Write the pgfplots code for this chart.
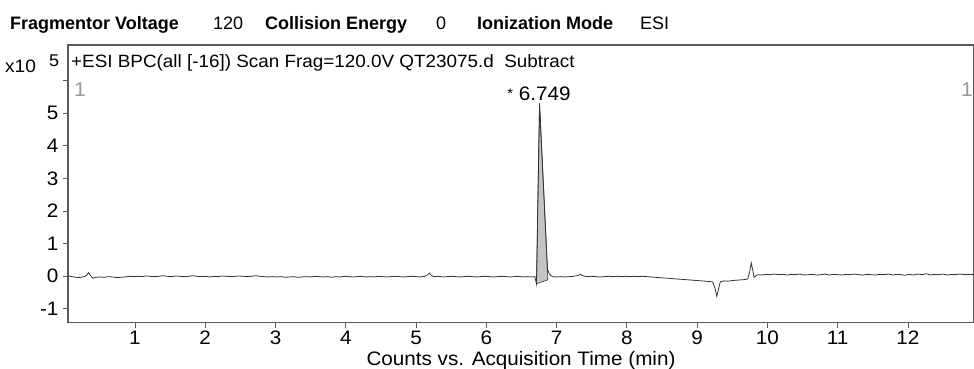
\documentclass[border=0pt]{standalone}
\usepackage{pgfplots}
\pgfplotsset{compat=1.18}
\usepackage{fontspec}
\setmainfont{Liberation Sans}[FakeStretch=1.06]
\newfontfamily\hdr{Liberation Sans}
\definecolor{frame}{HTML}{5A5A5A}
\definecolor{trace}{HTML}{333333}
\definecolor{peakfill}{HTML}{C4C4C4}
\definecolor{lbl}{HTML}{999999}
\newcommand{\fs}{\fontsize{19.5}{22}\selectfont}
\begin{document}
\begin{tikzpicture}
\path[use as bounding box] (-68pt,-45.5pt) rectangle (906pt,322.5pt);
% header
\node[anchor=base west,inner sep=0] at (-58pt,293.5pt) {\hdr\fontsize{18}{20}\selectfont\bfseries Fragmentor Voltage};
\node[anchor=base west,inner sep=0] at (145pt,293.5pt) {\hdr\fontsize{18}{20}\selectfont 120};
\node[anchor=base west,inner sep=0] at (197pt,293.5pt) {\hdr\fontsize{18}{20}\selectfont\bfseries Collision Energy};
\node[anchor=base west,inner sep=0] at (368pt,293.5pt) {\hdr\fontsize{18}{20}\selectfont 0};
\node[anchor=base west,inner sep=0] at (409pt,293.5pt) {\hdr\fontsize{18}{20}\selectfont\bfseries Ionization Mode};
\node[anchor=base west,inner sep=0] at (572pt,293.5pt) {\hdr\fontsize{18}{20}\selectfont ESI};
\begin{axis}[
  at={(0,0)}, anchor=south west,
  scale only axis, width=906pt, height=277.5pt,
  xmin=0.047, xmax=12.94, ymin=-1.43, ymax=7.1,
  axis line style={draw=frame, line width=1.4pt},
  xtick={1,...,12}, ytick={-1,0,1,2,3,4,5,6},
  yticklabels={-1,0,1,2,3,4,5,{}},
  tick align=outside, xtick pos=bottom, ytick pos=left,
  major tick length=5pt,
  tick style={draw=frame, line width=0.8pt},
  ticklabel style={font=\fs},
  xticklabel style={inner sep=1pt, yshift=-2pt},
  yticklabel style={xshift=-1pt},
  /pgf/number format/assume math mode=true,
  xlabel={Counts vs. Acquisition Time (min)},
  xlabel style={font=\fs, inner sep=0pt, at={(axis description cs:0.5,0)}, anchor=base, yshift=-43pt},
  clip=false,
]
\addplot[fill=peakfill, draw=trace, line width=0.6pt] coordinates {
(6.714,-0.24) (6.757,5.31) (6.87,0.20) (6.875,-0.12)} -- cycle;
\addplot[color=trace, line width=0.8pt] coordinates {
(0.05,0.01) (0.08,-0.01) (0.13,-0.03) (0.18,-0.05) (0.23,-0.04) (0.28,-0.02)
(0.31,0.02) (0.34,0.10) (0.37,0.01) (0.40,-0.07) (0.44,-0.04) (0.50,-0.03)
(0.56,-0.04) (0.62,-0.02) (0.68,-0.03) (0.74,-0.05) (0.80,-0.04) (0.86,-0.03)
(0.92,-0.01) (0.98,-0.02) (1.04,-0.01) (1.10,-0.02) (1.16,0.00) (1.22,-0.01)
(1.28,-0.02) (1.34,-0.01) (1.40,0.01) (1.46,-0.01) (1.52,-0.02) (1.58,0.00)
(1.64,-0.01) (1.70,-0.02) (1.76,-0.01) (1.82,0.01) (1.88,-0.01) (1.94,-0.02)
(2.00,-0.01) (2.06,-0.03) (2.12,-0.01) (2.18,-0.02) (2.24,0.00) (2.30,-0.01)
(2.36,-0.02) (2.42,-0.01) (2.48,0.00) (2.54,-0.01) (2.60,-0.02) (2.66,-0.01)
(2.72,0.01) (2.78,-0.01) (2.84,-0.02) (2.90,-0.03) (2.96,-0.02) (3.02,-0.03)
(3.08,-0.02) (3.14,-0.04) (3.20,-0.03) (3.26,-0.02) (3.32,-0.04) (3.38,-0.03)
(3.44,-0.02) (3.50,-0.03) (3.56,-0.01) (3.62,-0.02) (3.68,-0.03) (3.74,-0.02)
(3.80,-0.04) (3.86,-0.02) (3.92,-0.03) (3.98,-0.01) (4.04,-0.02) (4.10,-0.03)
(4.16,-0.02) (4.22,-0.01) (4.28,-0.03) (4.34,-0.02) (4.40,-0.03) (4.46,-0.01)
(4.52,-0.02) (4.58,-0.03) (4.64,-0.02) (4.70,-0.01) (4.76,-0.02) (4.82,-0.03)
(4.88,-0.02) (4.94,-0.01) (5.00,-0.02) (5.06,-0.03) (5.12,-0.01) (5.16,0.03)
(5.19,0.09) (5.22,0.01) (5.26,-0.02) (5.32,-0.01) (5.38,-0.03) (5.44,-0.02)
(5.50,-0.01) (5.56,-0.02) (5.62,-0.03) (5.68,-0.02) (5.74,-0.01) (5.80,-0.02)
(5.86,-0.03) (5.92,-0.02) (5.98,-0.01) (6.04,-0.02) (6.10,-0.03) (6.16,-0.02)
(6.22,-0.01) (6.28,-0.02) (6.34,-0.03) (6.40,-0.02) (6.46,-0.01) (6.52,-0.03)
(6.58,-0.02) (6.64,-0.03) (6.69,-0.02) (6.714,-0.24) (6.757,5.31) (6.87,0.20)
(6.90,0.05) (6.94,-0.02) (7.00,-0.03) (7.06,-0.02) (7.12,-0.03) (7.18,-0.02)
(7.24,-0.01) (7.30,0.01) (7.34,0.05) (7.38,0.00) (7.44,-0.02) (7.50,-0.01)
(7.56,-0.02) (7.62,-0.03) (7.68,-0.02) (7.74,-0.01) (7.80,-0.02) (7.86,-0.01)
(7.92,-0.02) (7.98,-0.01) (8.04,-0.02) (8.10,-0.01) (8.16,-0.02) (8.22,-0.01)
(8.28,-0.02) (8.34,-0.03) (8.40,-0.04) (8.46,-0.05) (8.52,-0.06) (8.58,-0.07)
(8.64,-0.08) (8.70,-0.09) (8.76,-0.10) (8.82,-0.11) (8.88,-0.12) (8.94,-0.13)
(9.00,-0.14) (9.06,-0.15) (9.12,-0.16) (9.18,-0.17) (9.22,-0.18) (9.25,-0.35)
(9.28,-0.62) (9.31,-0.35) (9.33,-0.18) (9.38,-0.15) (9.44,-0.16) (9.50,-0.14)
(9.56,-0.13) (9.62,-0.12) (9.68,-0.11) (9.72,-0.09) (9.75,0.15) (9.77,0.40)
(9.79,0.20) (9.81,-0.04) (9.86,0.04) (9.92,0.03) (9.98,0.05) (10.04,0.04)
(10.10,0.06) (10.16,0.04) (10.22,0.05) (10.28,0.03) (10.34,0.05) (10.40,0.04)
(10.46,0.06) (10.52,0.03) (10.58,0.04) (10.64,0.05) (10.70,0.03) (10.76,0.04)
(10.82,0.06) (10.88,0.03) (10.94,0.05) (11.00,0.04) (11.06,0.03) (11.12,0.05)
(11.18,0.04) (11.24,0.06) (11.30,0.04) (11.36,0.03) (11.42,0.05) (11.48,0.04)
(11.54,0.03) (11.60,0.05) (11.66,0.04) (11.72,0.06) (11.78,0.03) (11.84,0.05)
(11.90,0.04) (11.96,0.02) (12.02,0.05) (12.08,0.03) (12.14,0.06) (12.20,0.04)
(12.26,0.07) (12.32,0.03) (12.38,0.05) (12.44,0.04) (12.50,0.06) (12.56,0.03)
(12.62,0.05) (12.68,0.04) (12.74,0.06) (12.80,0.04) (12.86,0.05) (12.94,0.04)
};
\node[anchor=base, inner sep=0, font=\fontsize{19.5}{22}\selectfont] at (axis cs:6.749,5.31) [yshift=3pt] {\raisebox{2pt}{\fontsize{14}{15}\selectfont *} 6.749};
\end{axis}
% in-plot texts
\node[anchor=base west,inner sep=0,font=\fontsize{17.8}{20}\selectfont] at (3pt,255.5pt) {+ESI BPC(all [-16]) Scan Frag=120.0V QT23075.d\ \ Subtract};
\node[anchor=base west,inner sep=0,font=\fontsize{18}{20}\selectfont] at (-63pt,250.5pt) {x10};
\node[anchor=base west,inner sep=0,font=\fontsize{17}{18}\selectfont] at (-19pt,256.5pt) {5};
\node[anchor=base west,inner sep=0,font=\fontsize{20}{23}\selectfont,text=lbl] at (6pt,226.5pt) {1};
\node[anchor=base east,inner sep=0,font=\fontsize{20}{23}\selectfont,text=lbl] at (905pt,226.5pt) {1};
\end{tikzpicture}
\end{document}
